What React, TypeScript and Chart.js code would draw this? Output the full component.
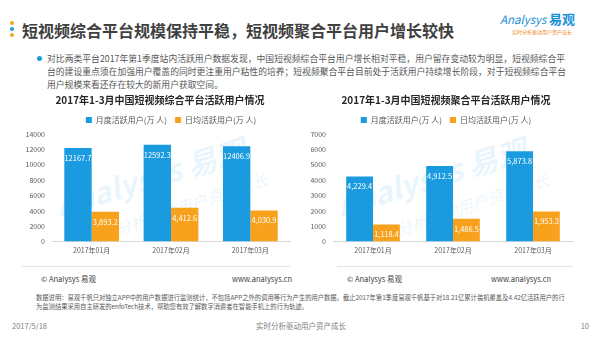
import React, { useEffect, useRef } from "react";
import { Chart, registerables } from "chart.js";

Chart.register(...registerables);

// ---------- data ----------
const months = ["2017年01月", "2017年02月", "2017年03月"];
const seriesNames = ["月度活跃用户(万 人)", "日均活跃用户(万 人)"];
const comboMAU = [12167.7, 12592.3, 12406.9];
const comboDAU = [3893.2, 4412.6, 4030.9];
const aggMAU = [4229.4, 4912.5, 5873.8];
const aggDAU = [1118.4, 1486.5, 1953.3];
const comboTitle = "2017年1-3月中国短视频综合平台活跃用户情况";
const aggTitle = "2017年1-3月中国短视频聚合平台活跃用户情况";
const comboTicks = { max: 14000, step: 2000 };
const aggTicks = { max: 7000, step: 1000 };

const BLUE = "#1a9be0";
const ORANGE = "#f8a11c";
const FONT = '"Noto Sans CJK SC", "Microsoft YaHei", sans-serif';

Chart.defaults.font.family = FONT;

const fmt = (v: number, comma: boolean) =>
  comma
    ? v.toLocaleString("en-US", { minimumFractionDigits: 1, maximumFractionDigits: 1 })
    : v.toFixed(1);

const valueLabels = {
  id: "valueLabels",
  afterDatasetsDraw(chart: any) {
    const ctx = chart.ctx;
    chart.data.datasets.forEach((ds: any, i: number) => {
      const meta = chart.getDatasetMeta(i);
      meta.data.forEach((bar: any, j: number) => {
        ctx.save();
        ctx.fillStyle = "#ffffff";
        ctx.font = `7.5px ${FONT}`;
        ctx.textAlign = "center";
        ctx.textBaseline = "middle";
        ctx.fillText(fmt(ds.data[j], ds.comma), bar.x, bar.y + 10);
        ctx.restore();
      });
    });
  },
};

type BarProps = {
  title: string;
  mau: number[];
  dau: number[];
  mauComma: boolean;
  max: number;
  step: number;
  yWidth: number;
  padRight: number;
  catPct: number;
  legendFull: boolean;
  style: React.CSSProperties;
};

function BarChart(p: BarProps) {
  const ref = useRef<HTMLCanvasElement>(null);
  useEffect(() => {
    const chart = new Chart(ref.current!, {
      type: "bar",
      data: {
        labels: months,
        datasets: [
          {
            label: seriesNames[0],
            data: p.mau,
            backgroundColor: BLUE,
            categoryPercentage: p.catPct,
            barPercentage: 1,
            comma: p.mauComma,
          } as any,
          {
            label: seriesNames[1],
            data: p.dau,
            backgroundColor: ORANGE,
            categoryPercentage: p.catPct,
            barPercentage: 1,
            comma: true,
          } as any,
        ],
      },
      options: {
        animation: false,
        responsive: false,
        maintainAspectRatio: false,
        layout: { padding: { left: 0, right: 0, top: 0, bottom: 2 } },
        plugins: {
          title: {
            display: true,
            text: p.title,
            color: "#262626",
            font: { size: 10, weight: "bold" },
            padding: { top: 6, bottom: 2 },
          },
          legend: {
            fullSize: p.legendFull,
            labels: {
              boxWidth: 6,
              boxHeight: 6,
              color: "#595959",
              font: { size: 8 },
              padding: 8,
            },
          },
          tooltip: { enabled: false },
        },
        scales: {
          x: {
            grid: { display: false, drawTicks: false },
            border: { display: true, color: "#d9d9d9" },
            ticks: { color: "#595959", font: { size: 7 }, padding: 5 },
          },
          y: {
            min: 0,
            max: p.max,
            grid: { display: false, drawTicks: false },
            border: { display: false },
            ticks: {
              stepSize: p.step,
              color: "#595959",
              font: { size: 7 },
              padding: 7,
              callback: (v: any) => String(v),
            },
            afterFit: (s: any) => {
              s.width = p.yWidth;
            },
          },
          // empty spacer on the right so the title stays centred on the canvas
          yR: {
            position: "right",
            display: true,
            grid: { display: false, drawTicks: false },
            border: { display: false },
            ticks: { display: false },
            afterFit: (s: any) => {
              s.width = p.padRight;
            },
          },
        },
      },
      plugins: [valueLabels],
    } as any);
    return () => chart.destroy();
  }, []);
  return <canvas ref={ref} width={300} height={174} style={{ position: "absolute", ...p.style }} />;
}

const abs = (s: React.CSSProperties): React.CSSProperties => ({ position: "absolute", whiteSpace: "nowrap", ...s });

function Watermark({ left }: { left: number }) {
  return (
    <>
      <div
        style={abs({
          left: left,
          top: 160,
          width: 240,
          textAlign: "center",
          fontFamily: FONT,
          fontSize: 30,
          fontWeight: "bold",
          fontStyle: "italic",
          color: "rgba(20,150,225,0.10)",
          transform: "rotate(-17deg)",
          lineHeight: "32px",
        })}
      >
        Analysys 易观
      </div>
      <div
        style={abs({
          left: left + 46,
          top: 200,
          width: 200,
          textAlign: "center",
          fontFamily: FONT,
          fontSize: 16,
          fontStyle: "italic",
          color: "rgba(20,150,225,0.10)",
          transform: "rotate(-19deg)",
          lineHeight: "18px",
        })}
      >
        实时分析驱动用户资产成长
      </div>
    </>
  );
}

export default function App() {
  const grey = "#595959";
  return (
    <div
      style={{
        position: "fixed",
        left: 0,
        top: 0,
        width: 600,
        height: 337,
        overflow: "hidden",
        background: "#fff",
        fontFamily: FONT,
      }}
    >
      {/* title dots */}
      <div style={abs({ left: 10, top: 21, width: 4, height: 4, borderRadius: 2, background: "#f5a623" })} />
      <div style={abs({ left: 10, top: 27, width: 4, height: 4, borderRadius: 2, background: BLUE })} />
      <div style={abs({ left: 10, top: 33, width: 4, height: 4, borderRadius: 2, background: "#f5a623" })} />
      <div style={abs({ left: 22, top: 18, fontSize: 16, fontWeight: "bold", color: "#404040", lineHeight: "24px" })}>
        短视频综合平台规模保持平稳，短视频聚合平台用户增长较快
      </div>
      {/* logo */}
      <div style={abs({ left: 500, top: 12, fontSize: 11.5, lineHeight: "14px", color: "#1a8fd8" })}>
        <span style={{ fontStyle: "italic" }}>Analysys</span>{" "}
        <span style={{ fontWeight: "bold", fontSize: 13 }}>易观</span>
      </div>
      <div style={abs({ left: 512, top: 29, fontSize: 5, lineHeight: "6px", color: "#f08c1e" })}>
        实时分析驱动用户资产成长
      </div>
      {/* paragraph */}
      <div style={abs({ left: 37, top: 56, width: 5, height: 5, borderRadius: 3, background: BLUE })} />
      <div style={abs({ left: 47, top: 51.5, width: 518, fontSize: 8.8, lineHeight: "13px", color: grey, textAlignLast: "justify" as any })}>
        对比两类平台2017年第1季度站内活跃用户数据发现，中国短视频综合平台用户增长相对平稳，用户留存变动较为明显，短视频综合平
      </div>
      <div style={abs({ left: 47, top: 64.5, width: 518, fontSize: 8.8, lineHeight: "13px", color: grey, textAlignLast: "justify" as any })}>
        台的建设重点须在加强用户覆盖的同时更注重用户粘性的培养；短视频聚合平台目前处于活跃用户持续增长阶段，对于短视频综合平台
      </div>
      <div style={abs({ left: 47, top: 77.5, fontSize: 8.8, lineHeight: "13px", color: grey })}>
        用户规模来看还存在较大的新用户获取空间。
      </div>

      <Watermark left={30} />
      <Watermark left={311} />

      <BarChart
        title={comboTitle}
        mau={comboMAU}
        dau={comboDAU}
        mauComma={false}
        max={comboTicks.max}
        step={comboTicks.step}
        yWidth={42}
        padRight={20}
        catPct={0.69}
        legendFull={false}
        style={{ left: 10, top: 88 }}
      />
      <BarChart
        title={aggTitle}
        mau={aggMAU}
        dau={aggDAU}
        mauComma={true}
        max={aggTicks.max}
        step={aggTicks.step}
        yWidth={37}
        padRight={23}
        catPct={0.67}
        legendFull={true}
        style={{ left: 296, top: 88 }}
      />

      {/* chart footers */}
      <div style={abs({ left: 22, top: 266, width: 268, height: 1, background: "#e3e3e3" })} />
      <div style={abs({ left: 337, top: 266, width: 236, height: 1, background: "#e3e3e3" })} />
      <div style={abs({ left: 41, top: 274, fontSize: 7.5, lineHeight: "10px", color: "#404040" })}>© Analysys 易观</div>
      <div style={abs({ left: 232, top: 274, width: 50, textAlign: "right", fontSize: 7.5, lineHeight: "10px", color: "#404040" })}>
        www.analysys.cn
      </div>
      <div style={abs({ left: 347, top: 274, fontSize: 7.5, lineHeight: "10px", color: "#404040" })}>© Analysys 易观</div>
      <div style={abs({ left: 491, top: 274, width: 50, textAlign: "right", fontSize: 7.5, lineHeight: "10px", color: "#404040" })}>
        www.analysys.cn
      </div>

      {/* footnote */}
      <div style={abs({ left: 36, top: 294, width: 527, fontSize: 6.3, lineHeight: "8.5px", color: grey, textAlignLast: "justify" as any })}>
        数据说明：易观千帆只对独立APP中的用户数据进行监测统计，不包括APP之外的调用等行为产生的用户数据。截止2017年第1季度易观千帆基于对18.21亿累计装机覆盖及4.42亿活跃用户的行
      </div>
      <div style={abs({ left: 36, top: 302.5, fontSize: 6.3, lineHeight: "8.5px", color: grey })}>
        为监测结果采用自主研发的enfoTech技术，帮助您有效了解数字消费者在智能手机上的行为轨迹。
      </div>

      {/* page footer */}
      <div style={abs({ left: 12, top: 321, fontSize: 7.5, lineHeight: "10px", color: "#7f7f7f" })}>2017/5/18</div>
      <div style={abs({ left: 200, top: 321, width: 202, textAlign: "center", fontSize: 7.5, lineHeight: "10px", color: "#7f7f7f" })}>
        实时分析驱动用户资产成长
      </div>
      <div style={abs({ left: 570, top: 321, width: 19, textAlign: "right", fontSize: 7.5, lineHeight: "10px", color: "#7f7f7f" })}>
        10
      </div>
    </div>
  );
}
